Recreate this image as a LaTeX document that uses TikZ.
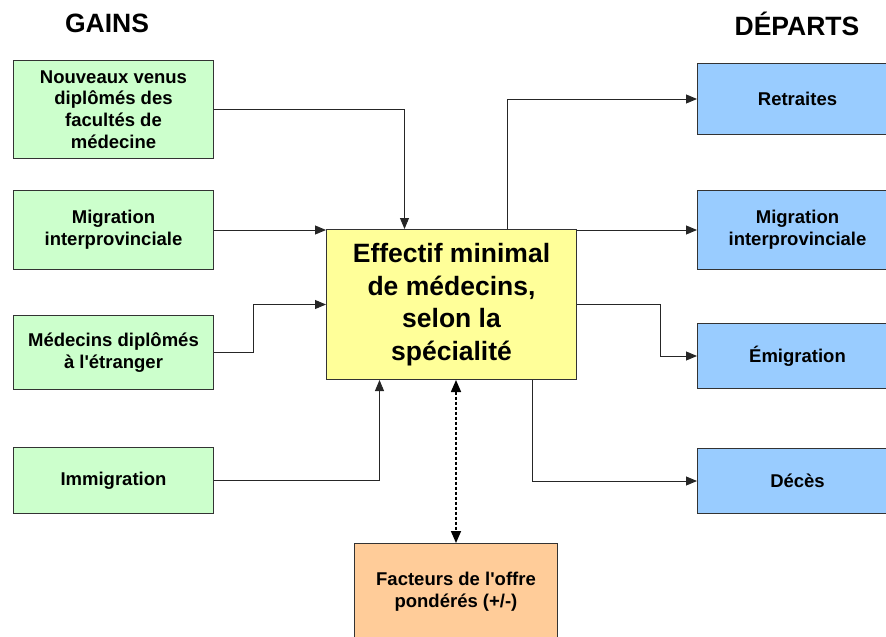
\documentclass[tikz,border=0pt]{standalone}
\usepackage{fontspec}
\setmainfont{Liberation Sans}
\usetikzlibrary{arrows.meta}

\definecolor{gainvert}{HTML}{CCFFCC}
\definecolor{depbleu}{HTML}{99CCFF}
\definecolor{effjaune}{HTML}{FFFF99}
\definecolor{offorange}{HTML}{FFCC99}

\tikzset{
  boite/.style={draw=black!80, line width=1pt, anchor=north west, align=center, inner sep=2pt,
    font=\fontsize{18.5}{21.7}\selectfont\bfseries},
  gain/.style={boite, fill=gainvert, minimum width=200pt},
  depart/.style={boite, fill=depbleu, minimum width=200pt},
  fleche/.style={draw=black!85, line width=0.9pt, -{Triangle[length=11pt,width=9pt]}},
  titre/.style={font=\fontsize{26.5}{30}\selectfont\bfseries}
}

\begin{document}
\begin{tikzpicture}[x=1pt, y=-1pt]
  \useasboundingbox (0,0) rectangle (886,637);

  \node[titre] (gains) at (107,23) {GAINS};
  \node[titre] (departs) at (797,24) {DÉPARTS};

  % gains
  \node[gain, minimum height=98pt] (nv) at (13,60) {Nouveaux venus\\diplômés des\\facultés de\\médecine};
  \node[gain, minimum height=79pt] (mi) at (13,190) {Migration\\interprovinciale};
  \node[gain, minimum height=74pt] (me) at (13,315) {Médecins diplômés\\à l\textquotesingle étranger};
  \node[gain, minimum height=66pt] (im) at (13,447) {Immigration};

  % effectif
  \node[boite, fill=effjaune, minimum width=250pt, minimum height=150pt,
    font=\fontsize{26.5}{32.5}\selectfont\bfseries] (eff) at (326,229)
    {Effectif minimal\\de médecins,\\selon la\\spécialité};

  % facteurs
  \node[boite, fill=offorange, minimum width=203pt, minimum height=96pt] (fo) at (354,543)
    {Facteurs de l\textquotesingle offre\\pondérés (+/-)};

  % departs
  \node[depart, minimum height=71pt] (re) at (697,63) {Retraites};
  \node[depart, minimum height=79pt] (mo) at (697,190) {Migration\\interprovinciale};
  \node[depart, minimum height=65pt] (em) at (697,323) {Émigration};
  \node[depart, minimum height=65pt] (de) at (697,448) {Décès};

  % fleches entrantes
  \draw[fleche] (nv.east) -| ([xshift=-47pt]eff.north);
  \draw[fleche] (mi.east) -- (mi.east -| eff.west);
  \draw[fleche] (me.east) -- ++(39,0) |- (eff.west);
  \draw[fleche] (im.east) -| ([xshift=-72pt]eff.south);

  % fleches sortantes
  \draw[fleche] ([xshift=56pt]eff.north) |- (re.west);
  \draw[fleche] (mo.west -| eff.east) -- (mo.west);
  \draw[fleche] (eff.east) -- ++(83,0) |- (em.west);
  \draw[fleche] ([xshift=81pt]eff.south) |- (de.west);

  % offre
  \draw[line width=1.6pt, dash pattern=on 3pt off 2pt,
    {Triangle[length=12pt,width=10pt]}-{Triangle[length=12pt,width=10pt]}]
    (fo.north |- eff.south) -- (fo.north);
\end{tikzpicture}
\end{document}
